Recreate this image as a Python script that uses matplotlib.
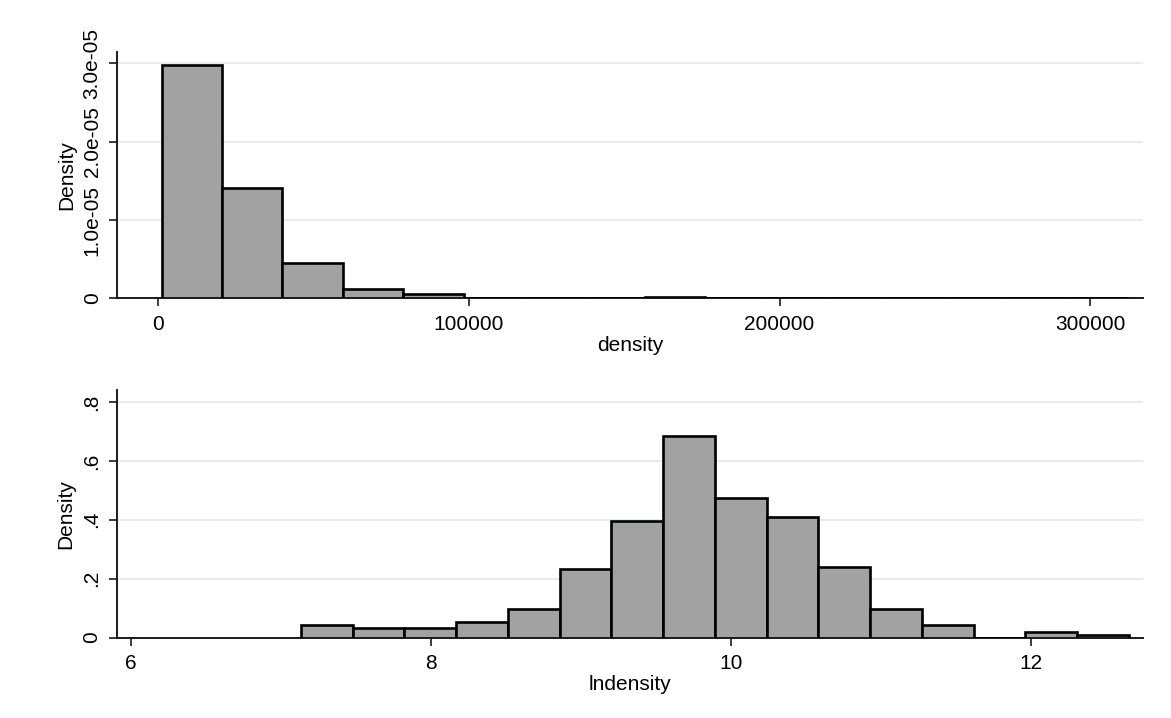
import matplotlib
matplotlib.use("Agg")
import matplotlib.pyplot as plt
import numpy as np

plt.rcParams['font.family'] = ['Liberation Sans', 'DejaVu Sans']

# top panel: density (raw), 16 bins
dens_start = 1287
dens_binw = 19425
dens_heights = [2.978e-5, 1.406e-5, 0.457e-5, 0.121e-5, 0.057e-5, 0, 0, 0,
                0.025e-5, 0, 0, 0, 0, 0, 0, 0.012e-5]
dens_xticks = [0, 100000, 200000, 300000]
dens_yticks = [0, 1e-5, 2e-5, 3e-5]
dens_yticklabels = ['0', '1.0e-05', '2.0e-05', '3.0e-05']

# bottom panel: ln density, 16 bins
ln_start = 7.133
ln_binw = 0.345
ln_heights = [0.042, 0.031, 0.031, 0.052, 0.097, 0.232, 0.395, 0.685,
              0.475, 0.409, 0.241, 0.097, 0.042, 0, 0.019, 0.008]
ln_xticks = [6, 8, 10, 12]
ln_yticks = [0, 0.2, 0.4, 0.6, 0.8]
ln_yticklabels = ['0', '.2', '.4', '.6', '.8']

BAR = '#a2a2a2'
GRID = '#e3eaee'
FS = 15

fig = plt.figure(figsize=(11.71, 7.18), dpi=100)
ax1 = fig.add_axes([0.0999, 0.5843, 0.8762, 0.3437])
ax2 = fig.add_axes([0.0997, 0.1121, 0.8762, 0.3447])


def style(ax, xticks, yticks, ylabels, xlabel):
    for s in ['top', 'right']:
        ax.spines[s].set_visible(False)
    for s in ['left', 'bottom']:
        ax.spines[s].set_linewidth(1.4)
        ax.spines[s].set_color('#1a1a1a')
    ax.set_xticks(xticks)
    ax.set_yticks(yticks)
    ax.set_yticklabels(ylabels, rotation=90, va='center')
    ax.tick_params(axis='both', labelsize=FS, length=6, width=1.2, color='#1a1a1a')
    ax.tick_params(axis='x', pad=6)
    ax.tick_params(axis='y', pad=5)
    ax.yaxis.grid(True, color=GRID, linewidth=1.3)
    ax.set_axisbelow(True)
    ax.set_ylabel('Density', fontsize=FS, labelpad=5)
    ax.set_xlabel(xlabel, fontsize=FS, labelpad=1)


n1 = len(dens_heights)
left1 = dens_start + dens_binw * np.arange(n1)
ax1.bar(left1, dens_heights, width=dens_binw, align='edge', color=BAR,
        edgecolor='black', linewidth=1.9, zorder=3)
ax1.set_xlim(-13090, 316900)
ax1.set_ylim(0, 3.148e-5)
style(ax1, dens_xticks, dens_yticks, dens_yticklabels, 'density')
ax1.set_xticklabels([str(v) for v in dens_xticks])

n2 = len(ln_heights)
left2 = ln_start + ln_binw * np.arange(n2)
ax2.bar(left2, ln_heights, width=ln_binw, align='edge', color=BAR,
        edgecolor='black', linewidth=1.9, zorder=3)
ax2.set_xlim(5.905, 12.745)
ax2.set_ylim(0, 0.841)
style(ax2, ln_xticks, ln_yticks, ln_yticklabels, 'lndensity')

fig.savefig('out.png', dpi=100)
